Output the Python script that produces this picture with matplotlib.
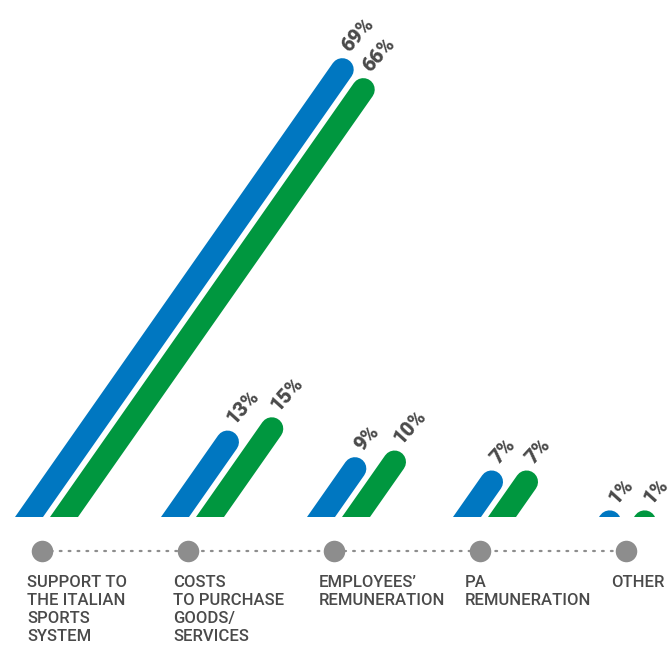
import numpy as np
import matplotlib
matplotlib.use("Agg")
import matplotlib.pyplot as plt
from matplotlib import transforms

# data
categories = [
    "SUPPORT TO\nTHE ITALIAN\nSPORTS\nSYSTEM",
    "COSTS\nTO PURCHASE\nGOODS/\nSERVICES",
    "EMPLOYEES’\nREMUNERATION",
    "PA\nREMUNERATION",
    "OTHER",
]
blue_vals = [69, 13, 9, 7, 1]
green_vals = [66, 15, 10, 7, 1]

BLUE = "#0077c1"
GREEN = "#00973f"
GREY_TXT = "#4a4a4a"
GREY_DOT = "#8d8d8d"

plt.rcParams["font.family"] = ["Roboto", "DejaVu Sans"]

W, H, DPI = 672, 647, 100
fig = plt.figure(figsize=(W / DPI, H / DPI), dpi=DPI)

# bar area sits on the baseline; everything below it is the category strip
base_px = 517
ax = fig.add_axes([0, (H - base_px) / H, 1, base_px / H])
ax.set_axis_off()

PX_X = 146.0      # pixels per category step
PX_Y = 6.65       # pixels per percent
x0_px = 42.0      # first category centre
ax.set_xlim(-x0_px / PX_X, (W - x0_px) / PX_X)
ax.set_ylim(0, base_px / PX_Y)

ANGLE = np.deg2rad(55)
bar_w_px = 28.0                       # horizontal width at the baseline
perp_px = bar_w_px * np.sin(ANGLE)    # stroke width perpendicular to the bar
r_px = perp_px / 2
lw_pt = perp_px * 72 / DPI


def slanted_bar(xb, value, color):
    # cap top lands on the value; line runs from below the baseline (clipped)
    yc = value - r_px / PX_Y
    ys = -6.0
    xc = xb + (yc * PX_Y) / np.tan(ANGLE) / PX_X
    xs = xb + (ys * PX_Y) / np.tan(ANGLE) / PX_X
    ax.plot([xs, xc], [ys, yc], color=color, lw=lw_pt,
            solid_capstyle="round", clip_on=True)
    # percentage label next to the rounded end
    lx = xc + 7 / PX_X
    ly = yc + 17 / PX_Y
    ax.text(lx, ly, f"{value}%", rotation=48, rotation_mode="anchor",
            ha="left", va="baseline", fontsize=14.5, fontweight="heavy",
            color=GREY_TXT, clip_on=False)


xs_cat = np.arange(len(categories))
for i in xs_cat:
    slanted_bar(i - 13 / PX_X, blue_vals[i], BLUE)
    slanted_bar(i + 22 / PX_X, green_vals[i], GREEN)

# category strip: dotted connector, dots and labels
blend = transforms.blended_transform_factory(ax.transData, fig.transFigure)
dot_y = (H - 551) / H
ax.plot([xs_cat[0], xs_cat[-1]], [dot_y, dot_y], transform=blend,
        color=GREY_DOT, lw=1.6, linestyle=(0, (0.8, 3.2)),
        dash_capstyle="round", clip_on=False, zorder=1)
ax.plot(xs_cat, [dot_y] * len(xs_cat), "o", transform=blend,
        ms=15.5, color=GREY_DOT, mec="none", clip_on=False, zorder=2)

lab_y = (H - 575) / H
for i, name in zip(xs_cat, categories):
    ax.text(i - 15 / PX_X, lab_y, name, transform=blend, ha="left", va="top",
            fontsize=12, fontweight="medium", color=GREY_TXT,
            linespacing=1.24, clip_on=False)

fig.savefig("out.png", dpi=DPI)
